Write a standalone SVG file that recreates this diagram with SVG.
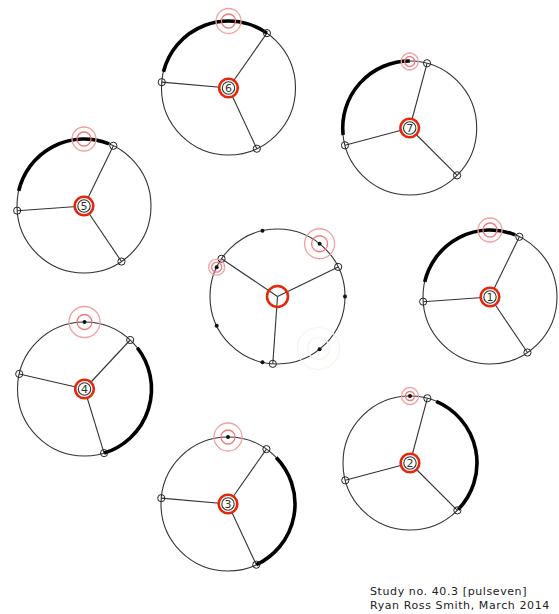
<svg xmlns="http://www.w3.org/2000/svg" width="559" height="614" viewBox="0 0 559 614">
<style>
.ring{fill:none;stroke:#333;stroke-width:1.1}
.spoke{stroke:#333;stroke-width:1.1}
.node{fill:none;stroke:#222;stroke-width:1}
.thick{fill:none;stroke:#000;stroke-width:3.6}
.hubR{fill:#fff;stroke:#e2290c;stroke-width:2.6}
.hubI{fill:none;stroke:#333;stroke-width:1.1}
.num{font-family:"DejaVu Sans",Verdana,sans-serif;font-size:11px;fill:#333;text-anchor:middle}
.p1{fill:none;stroke:#f2a0a0;stroke-width:1.3}
.p2{fill:none;stroke:#f07a7a;stroke-width:1.3}
.dot{fill:#111}
.faint{fill:none;stroke:#f9f3ec;stroke-width:1.2}
.cap{font-family:"DejaVu Sans",Verdana,sans-serif;font-size:11px;letter-spacing:0.6px;fill:#222}
</style>
<rect width="559" height="614" fill="#fff"/>
<g id="connectors">
<line class="spoke" x1="228.5" y1="88" x2="266.93" y2="33.11"/>
<line class="spoke" x1="228.5" y1="88" x2="256.81" y2="148.72"/>
<line class="spoke" x1="228.5" y1="88" x2="161.76" y2="82.16"/>
<line class="spoke" x1="409.7" y1="128" x2="427.04" y2="63.28"/>
<line class="spoke" x1="409.7" y1="128" x2="457.08" y2="175.38"/>
<line class="spoke" x1="409.7" y1="128" x2="344.98" y2="145.34"/>
<line class="spoke" x1="84" y1="206" x2="113.37" y2="145.78"/>
<line class="spoke" x1="84" y1="206" x2="121.47" y2="261.54"/>
<line class="spoke" x1="84" y1="206" x2="17.16" y2="210.68"/>
<line class="spoke" x1="490" y1="297" x2="519.37" y2="236.78"/>
<line class="spoke" x1="490" y1="297" x2="527.47" y2="352.54"/>
<line class="spoke" x1="490" y1="297" x2="423.16" y2="301.68"/>
<line class="spoke" x1="84.5" y1="389" x2="130.19" y2="340"/>
<line class="spoke" x1="84.5" y1="389" x2="104.09" y2="453.07"/>
<line class="spoke" x1="84.5" y1="389" x2="19.22" y2="373.93"/>
<line class="spoke" x1="228" y1="504" x2="266.43" y2="449.11"/>
<line class="spoke" x1="228" y1="504" x2="256.31" y2="564.72"/>
<line class="spoke" x1="228" y1="504" x2="161.25" y2="498.16"/>
<line class="spoke" x1="410" y1="463" x2="427.34" y2="398.28"/>
<line class="spoke" x1="410" y1="463" x2="457.38" y2="510.38"/>
<line class="spoke" x1="410" y1="463" x2="345.28" y2="480.34"/>
<line class="spoke" x1="277.5" y1="296.5" x2="221.54" y2="258.75"/>
<line class="spoke" x1="277.5" y1="296.5" x2="338.17" y2="266.91"/>
<line class="spoke" x1="277.5" y1="296.5" x2="272.79" y2="363.84"/>
</g>

<g id="node-6">
<circle class="ring" cx="228.5" cy="88" r="67"/>
<path class="thick" d="M163.49 71.79 A67 67 0 0 1 266.93 33.11"/>
<circle class="node" cx="266.93" cy="33.11" r="3.6"/>
<circle class="node" cx="256.81" cy="148.72" r="3.6"/>
<circle class="node" cx="161.76" cy="82.16" r="3.6"/>
<circle class="p1" cx="228.5" cy="21" r="12.5"/>
<circle class="p2" cx="228.5" cy="21" r="7"/>
<circle class="hubR" cx="228.5" cy="88" r="9.3"/>
<circle class="hubI" cx="228.5" cy="88" r="6.2"/>
<text class="num" x="228.5" y="92">6</text>
</g>

<g id="node-7">
<circle class="ring" cx="409.7" cy="128" r="67"/>
<path class="thick" d="M343.07 135 A67 67 0 0 1 409.7 61"/>
<circle class="node" cx="427.04" cy="63.28" r="3.6"/>
<circle class="node" cx="457.08" cy="175.38" r="3.6"/>
<circle class="node" cx="344.98" cy="145.34" r="3.6"/>
<circle class="p1" cx="409.7" cy="61.5" r="8.5"/>
<circle class="p2" cx="409.7" cy="61.5" r="5"/>
<circle class="hubR" cx="409.7" cy="128" r="9.3"/>
<circle class="hubI" cx="409.7" cy="128" r="6.2"/>
<text class="num" x="409.7" y="132">7</text>
</g>

<g id="node-5">
<circle class="ring" cx="84" cy="206" r="67"/>
<path class="thick" d="M18.72 190.93 A67 67 0 0 1 109.1 143.88"/>
<circle class="node" cx="113.37" cy="145.78" r="3.6"/>
<circle class="node" cx="121.47" cy="261.54" r="3.6"/>
<circle class="node" cx="17.16" cy="210.68" r="3.6"/>
<circle class="p1" cx="84" cy="139" r="12"/>
<circle class="p2" cx="84" cy="139" r="7"/>
<circle class="hubR" cx="84" cy="206" r="9.3"/>
<circle class="hubI" cx="84" cy="206" r="6.2"/>
<text class="num" x="84" y="210">5</text>
</g>

<g id="node-1">
<circle class="ring" cx="490" cy="297" r="67"/>
<path class="thick" d="M424.72 281.93 A67 67 0 0 1 515.1 234.88"/>
<circle class="node" cx="519.37" cy="236.78" r="3.6"/>
<circle class="node" cx="527.47" cy="352.54" r="3.6"/>
<circle class="node" cx="423.16" cy="301.68" r="3.6"/>
<circle class="p1" cx="490" cy="230" r="12"/>
<circle class="p2" cx="490" cy="230" r="7"/>
<circle class="hubR" cx="490" cy="297" r="9.3"/>
<circle class="hubI" cx="490" cy="297" r="6.2"/>
<text class="num" x="490" y="301">1</text>
</g>

<g id="node-4">
<circle class="ring" cx="84.5" cy="389" r="67"/>
<path class="thick" d="M137.3 347.75 A67 67 0 0 1 104.09 453.07"/>
<circle class="node" cx="130.19" cy="340" r="3.6"/>
<circle class="node" cx="104.09" cy="453.07" r="3.6"/>
<circle class="node" cx="19.22" cy="373.93" r="3.6"/>
<circle class="p1" cx="84.5" cy="322" r="15.5"/>
<circle class="p2" cx="84.5" cy="322" r="7.5"/>
<circle class="dot" cx="84.5" cy="322" r="2"/>
<circle class="hubR" cx="84.5" cy="389" r="9.3"/>
<circle class="hubI" cx="84.5" cy="389" r="6.2"/>
<text class="num" x="84.5" y="393">4</text>
</g>

<g id="node-3">
<circle class="ring" cx="228" cy="504" r="67"/>
<path class="thick" d="M276.19 457.46 A67 67 0 0 1 256.31 564.72"/>
<circle class="node" cx="266.43" cy="449.11" r="3.6"/>
<circle class="node" cx="256.31" cy="564.72" r="3.6"/>
<circle class="node" cx="161.25" cy="498.16" r="3.6"/>
<circle class="p1" cx="228" cy="437" r="14"/>
<circle class="p2" cx="228" cy="437" r="7"/>
<circle class="dot" cx="228" cy="437" r="2"/>
<circle class="hubR" cx="228" cy="504" r="9.3"/>
<circle class="hubI" cx="228" cy="504" r="6.2"/>
<text class="num" x="228" y="508">3</text>
</g>

<g id="node-2">
<circle class="ring" cx="410" cy="463" r="67"/>
<path class="thick" d="M436.18 401.33 A67 67 0 0 1 458.19 509.54"/>
<circle class="node" cx="427.34" cy="398.28" r="3.6"/>
<circle class="node" cx="457.38" cy="510.38" r="3.6"/>
<circle class="node" cx="345.28" cy="480.34" r="3.6"/>
<circle class="p1" cx="410" cy="396" r="8.5"/>
<circle class="p2" cx="410" cy="396" r="4.5"/>
<circle class="dot" cx="410" cy="396" r="2"/>
<circle class="hubR" cx="410" cy="463" r="9.3"/>
<circle class="hubI" cx="410" cy="463" r="6.2"/>
<text class="num" x="410" y="467">2</text>
</g>

<g id="node-centre">
<circle class="ring" cx="277.5" cy="296.5" r="67.5"/>
<circle class="node" cx="221.54" cy="258.75" r="3.6"/>
<circle class="node" cx="338.17" cy="266.91" r="3.6"/>
<circle class="node" cx="272.79" cy="363.84" r="3.6"/>
<circle class="dot" cx="345" cy="296.5" r="2"/>
<circle class="dot" cx="319.59" cy="349.27" r="2"/>
<circle class="dot" cx="262.48" cy="362.31" r="2"/>
<circle class="dot" cx="216.68" cy="325.79" r="2"/>
<circle class="dot" cx="216.68" cy="267.21" r="2"/>
<circle class="dot" cx="262.48" cy="230.69" r="2"/>
<circle class="dot" cx="319.59" cy="243.73" r="2"/>
<circle class="p1" cx="319.59" cy="243.73" r="15"/>
<circle class="p2" cx="319.59" cy="243.73" r="8"/>
<circle class="p1" cx="216.68" cy="267.21" r="8"/>
<circle class="p2" cx="216.68" cy="267.21" r="5"/>
<circle class="faint" cx="318.5" cy="348.5" r="21"/>
<circle class="faint" cx="318.5" cy="348.5" r="11"/>
<circle fill="none" stroke="#e2290c" stroke-width="2.6" cx="277.5" cy="296.5" r="10.5"/>
</g>

<g id="caption">
<text class="cap" x="370" y="595">Study no. 40.3 [pulseven]</text>
<text class="cap" x="370" y="608.5">Ryan Ross Smith, March 2014</text>
</g>
</svg>
